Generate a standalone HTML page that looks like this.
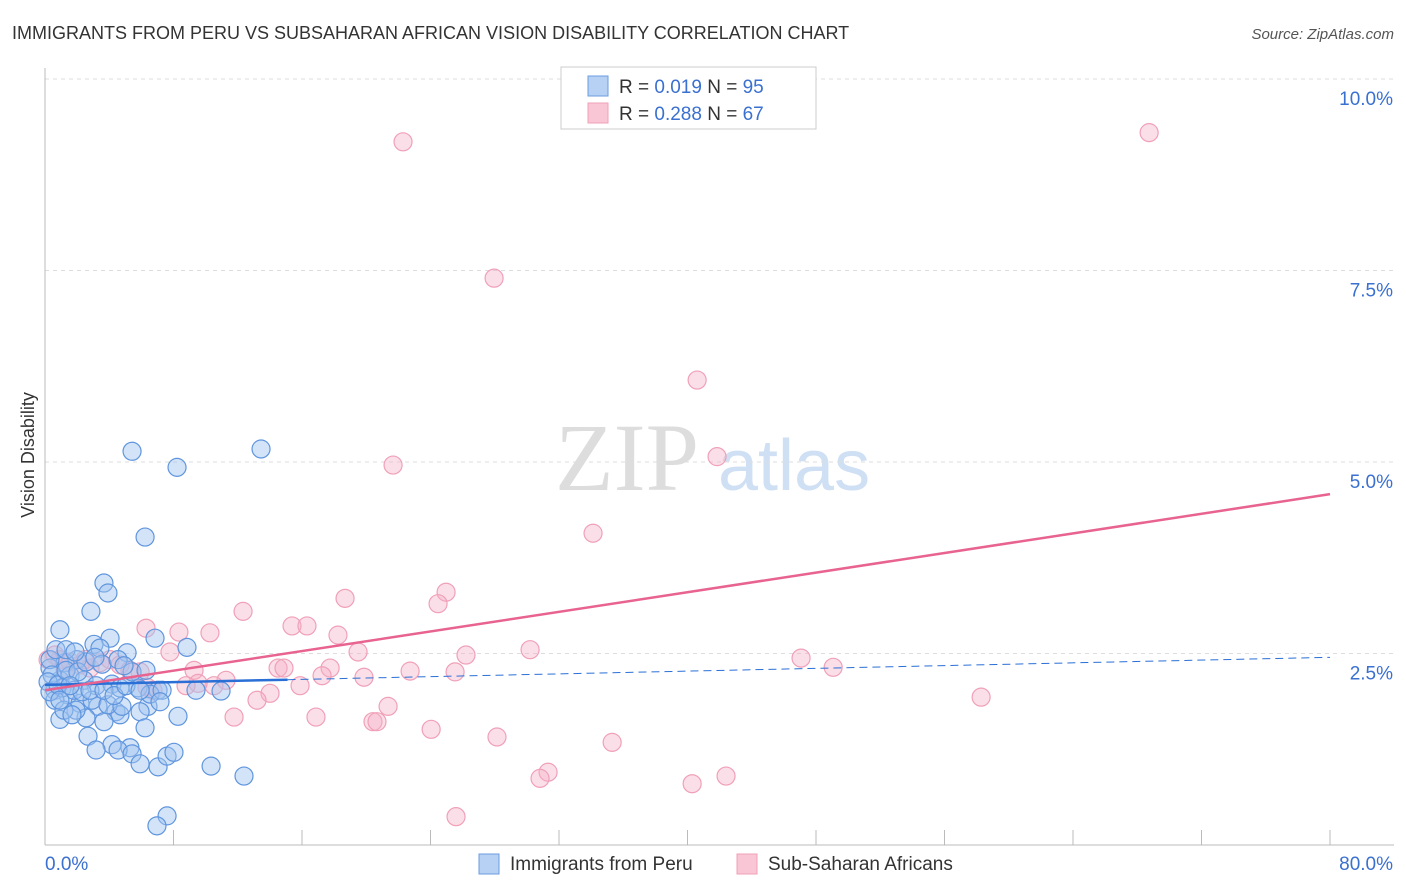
<!DOCTYPE html>
<html><head><meta charset="utf-8"><style>
body{margin:0;background:#fff;font-family:"Liberation Sans",sans-serif;}
svg{display:block}
</style></head><body>
<svg id="chart" width="1406" height="892" xmlns="http://www.w3.org/2000/svg">
<text x="12" y="39" font-size="18" fill="#333" font-family="Liberation Sans">IMMIGRANTS FROM PERU VS SUBSAHARAN AFRICAN VISION DISABILITY CORRELATION CHART</text>
<text x="1394" y="39" font-size="15" fill="#555" text-anchor="end" font-style="italic">Source: ZipAtlas.com</text>
<text transform="translate(34,455) rotate(-90)" font-size="18" fill="#333" text-anchor="middle">Vision Disability</text>
<g>
<text x="555" y="490" font-size="96" fill="#ddd" font-family="Liberation Serif">ZIP</text>
<text x="718" y="490" font-size="72" fill="#cfe0f4">atlas</text>
</g>
<g id="grid"></g><g id="axes"></g><g id="pts"></g><g id="lines"></g>
<g>
<rect x="561" y="67" width="255" height="62" fill="#fff" stroke="#ccc"/>
<rect x="588" y="76" width="20" height="20" fill="#b7d1f5" stroke="#6b9de0"/>
<rect x="588" y="103" width="20" height="20" fill="#f8c6d5" stroke="#f0a0b8"/>
<text x="619" y="93" font-size="19" fill="#333">R = <tspan fill="#3a70d0">0.019</tspan>   N = <tspan fill="#3a70d0">95</tspan></text>
<text x="619" y="120" font-size="19" fill="#333">R = <tspan fill="#3a70d0">0.288</tspan>   N = <tspan fill="#3a70d0">67</tspan></text>
</g>
<g>
<rect x="479" y="854" width="20" height="20" fill="#b7d1f5" stroke="#6b9de0"/>
<text x="510" y="870" font-size="19" fill="#333">Immigrants from Peru</text>
<rect x="737" y="854" width="20" height="20" fill="#f8c6d5" stroke="#f0a0b8"/>
<text x="768" y="870" font-size="19" fill="#333">Sub-Saharan Africans</text>
</g>
</svg>
<script>
const yTicks=[2.5,5,7.5,10];
const yTickLabels=["2.5%","5.0%","7.5%","10.0%"];
const xTickLabels=["0.0%","80.0%"];
const peruX=[5.42,8.22,13.45,6.23,3.67,3.92,2.86,0.93,6.85,4.05,3.05,3.42,5.11,8.84,1.99,1.25,0.93,0.31,0.62,1.56,2.43,3.18,4.17,4.67,5.79,7.04,1.43,2.18,3.30,4.42,6.41,8.28,0.93,2.55,4.67,5.92,2.68,4.17,5.29,6.23,3.18,4.55,5.42,5.92,7.04,7.60,8.03,10.34,12.39,7.60,6.97,10.96,0.31,0.44,1.06,1.81,1.93,2.93,3.67,3.92,4.79,0.19,0.62,1.18,1.68,2.30,2.80,3.67,4.30,5.04,6.54,7.29,0.31,0.81,1.31,2.05,2.55,3.55,4.55,5.42,6.29,0.68,1.31,1.87,3.11,4.92,0.93,1.56,5.92,7.16,9.40];
const peruY=[5.14,4.93,5.17,4.02,3.42,3.29,3.05,2.81,2.70,2.70,2.62,2.57,2.51,2.58,2.42,2.38,2.15,2.31,2.02,2.21,2.15,2.08,2.10,2.05,2.05,2.02,1.96,1.85,1.81,1.74,1.81,1.68,1.64,1.66,1.70,1.74,1.42,1.31,1.27,1.53,1.24,1.24,1.19,1.06,1.02,1.16,1.21,1.03,0.90,0.38,0.25,2.01,2.42,2.22,2.05,2.02,1.76,1.89,1.61,1.83,1.81,2.13,1.89,1.76,1.70,2.00,2.02,2.02,1.95,2.08,1.97,2.02,2.00,2.09,2.28,2.26,2.39,2.36,2.42,2.26,2.28,2.55,2.55,2.52,2.45,2.34,1.89,2.08,2.02,1.87,2.02];
const ssaX=[22.29,68.74,27.96,40.60,21.67,41.84,34.12,24.97,24.47,12.33,18.68,6.29,8.34,10.27,15.38,16.31,18.24,30.20,26.21,47.07,49.07,19.49,7.78,11.27,14.51,14.88,17.75,17.25,22.73,25.53,9.28,10.52,9.53,8.78,14.01,13.20,15.88,19.86,6.35,6.72,11.77,16.87,20.42,20.67,21.36,24.04,28.14,35.31,31.32,30.82,40.29,42.40,25.59,58.28,0.62,0.93,1.56,2.18,2.80,3.42,4.05,4.67,5.29,5.92,1.25,2.49,0.19];
const ssaY=[9.18,9.30,7.40,6.07,4.96,5.07,4.07,3.30,3.15,3.05,3.22,2.83,2.78,2.77,2.86,2.86,2.74,2.55,2.48,2.44,2.32,2.52,2.52,2.15,2.31,2.31,2.31,2.21,2.27,2.26,2.28,2.08,2.11,2.08,1.98,1.89,2.08,2.19,2.06,2.02,1.67,1.67,1.61,1.61,1.81,1.51,1.41,1.34,0.95,0.87,0.80,0.90,0.37,1.93,2.48,2.42,2.39,2.35,2.31,2.38,2.42,2.35,2.28,2.26,2.28,2.42,2.42];
const peruFit=[2.09,2.45];
const ssaFit=[2.02,4.58];
const NS="http://www.w3.org/2000/svg";
const sx=v=>45+v*(1285/80);
const sy=v=>845-v*76.6;
function mk(t,a,p){const e=document.createElementNS(NS,t);for(const k in a)e.setAttribute(k,a[k]);p.appendChild(e);return e;}
const grid=document.getElementById('grid'),axes=document.getElementById('axes'),pts=document.getElementById('pts'),lines=document.getElementById('lines');
yTicks.forEach((t,i)=>{
 const l=mk('line',{x1:45,x2:1394,y1:sy(t),y2:sy(t),stroke:'#ddd','stroke-dasharray':'4,4'},grid);
 
 
 const tx=mk('text',{x:1393,y:sy(t)+26,'font-size':19,fill:'#3a70d0','text-anchor':'end'},grid);
 tx.textContent=yTickLabels[i];
 
 
});
const xa=mk('line',{x1:45,x2:1394,y1:845,y2:845,stroke:'#bbb'},axes);


const ya=mk('line',{x1:45,x2:45,y1:68,y2:845,stroke:'#bbb'},axes);


for(let k=1;k<=10;k++){const v=k*8;
 const t=mk('line',{x1:sx(v),x2:sx(v),y1:830,y2:845,stroke:'#bbb'},axes);
 
 }
const xl0=mk('text',{x:45,y:870,'font-size':19,fill:'#3a70d0'},axes);xl0.textContent=xTickLabels[0];


const xl1=mk('text',{x:1393,y:870,'font-size':19,fill:'#3a70d0','text-anchor':'end'},axes);xl1.textContent=xTickLabels[1];


ssaX.forEach((x,i)=>{const c=mk('circle',{cx:sx(x),cy:sy(ssaY[i]),r:9,fill:'rgba(245,175,198,0.4)',stroke:'#f0a0b8','stroke-width':1.2},pts);
 
 });
peruX.forEach((x,i)=>{const c=mk('circle',{cx:sx(x),cy:sy(peruY[i]),r:9,fill:'rgba(160,196,240,0.45)',stroke:'#5f95de','stroke-width':1.2},pts);
 
 });
const pf=v=>peruFit[0]+(peruFit[1]-peruFit[0])*v/80;
const b1=mk('line',{x1:sx(0),y1:sy(pf(0)),x2:sx(15.1),y2:sy(pf(15.1)),stroke:'#2a6fd6','stroke-width':2.5},lines);


const b2=mk('line',{x1:sx(15.1),y1:sy(pf(15.1)),x2:sx(80),y2:sy(pf(80)),stroke:'#2a6fd6','stroke-width':1,'stroke-dasharray':'8,5'},lines);


const p1=mk('line',{x1:sx(0),y1:sy(ssaFit[0]),x2:sx(80),y2:sy(ssaFit[1]),stroke:'#e8638f','stroke-width':2.5},lines);


</script>
</body></html>
